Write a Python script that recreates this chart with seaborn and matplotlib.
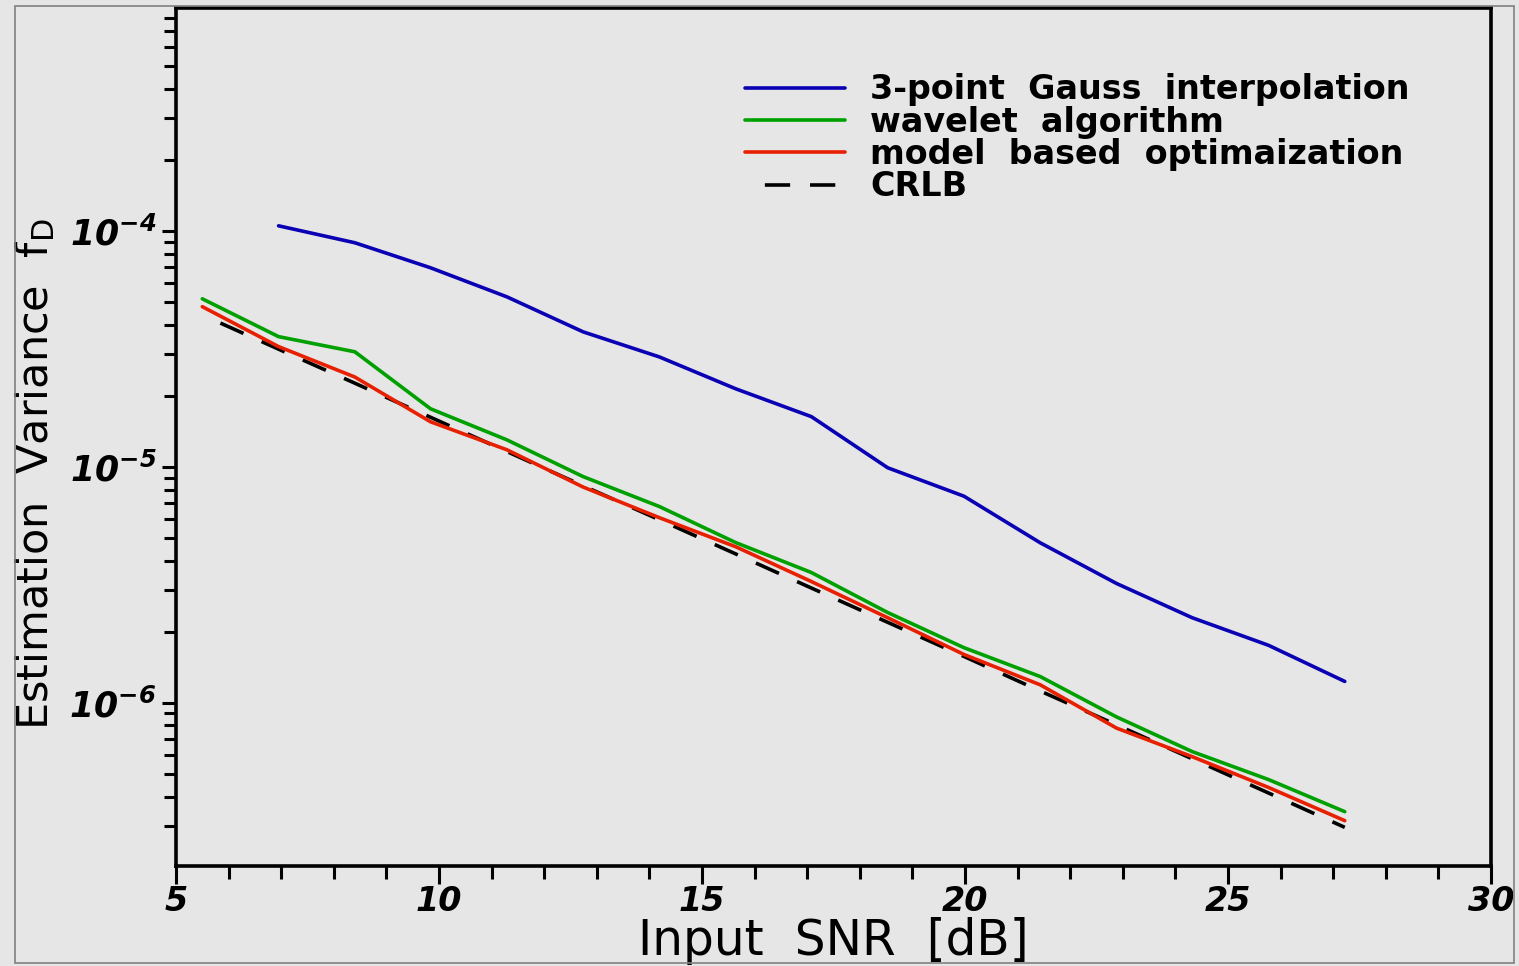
import numpy as np
import pandas as pd
import matplotlib
matplotlib.use("Agg")
import matplotlib.pyplot as plt
import seaborn as sns
from matplotlib.patches import Rectangle
from matplotlib.ticker import NullFormatter, LogLocator, MultipleLocator

# ---------------- data ----------------
snr = [5.5, 6.95, 8.4, 9.84, 11.29, 12.74, 14.19, 15.64, 17.08, 18.53,
       19.98, 21.43, 22.88, 24.32, 25.77, 27.22]
snr_gauss = snr[1:]
gauss = [1.05e-4, 8.9e-5, 6.97e-5, 5.25e-5, 3.73e-5, 2.92e-5, 2.14e-5, 1.63e-5,
         9.9e-6, 7.5e-6, 4.76e-6, 3.2e-6, 2.29e-6, 1.75e-6, 1.23e-6]
wavelet = [5.15e-5, 3.56e-5, 3.07e-5, 1.76e-5, 1.3e-5, 9.08e-6, 6.78e-6, 4.77e-6,
           3.56e-6, 2.41e-6, 1.71e-6, 1.29e-6, 8.7e-7, 6.2e-7, 4.72e-7, 3.45e-7]
model = [4.77e-5, 3.23e-5, 2.4e-5, 1.55e-5, 1.18e-5, 8.2e-6, 6.08e-6, 4.58e-6,
         3.26e-6, 2.29e-6, 1.6e-6, 1.19e-6, 7.8e-7, 5.9e-7, 4.37e-7, 3.16e-7]
crlb = [4.4e-5, 3.15e-5, 2.26e-5, 1.62e-5, 1.16e-5, 8.3e-6, 5.96e-6, 4.27e-6,
        3.06e-6, 2.19e-6, 1.57e-6, 1.12e-6, 8.05e-7, 5.78e-7, 4.14e-7, 2.96e-7]

series_names = ["3-point  Gauss  interpolation", "wavelet  algorithm",
                "model  based  optimaization", "CRLB"]
xticks = [5, 10, 15, 20, 25, 30]
xtick_labels = ["5", "10", "15", "20", "25", "30"]
yticks = [1e-6, 1e-5, 1e-4]
ytick_labels = [r"$10^{-6}$", r"$10^{-5}$", r"$10^{-4}$"]
xlabel = "Input  SNR  [dB]"
ylabel = r"Estimation  Variance  f$_\mathsf{D}$"

# ---------------- style ----------------
sns.set_theme(style="white")
bg = "#E6E6E6"
plt.rcParams["font.family"] = ["DejaVu Sans"]
plt.rcParams["mathtext.fontset"] = "custom"
plt.rcParams["mathtext.rm"] = "DejaVu Sans:italic:bold"
plt.rcParams["mathtext.it"] = "DejaVu Sans:italic:bold"
plt.rcParams["mathtext.bf"] = "DejaVu Sans:bold"
plt.rcParams["mathtext.sf"] = "DejaVu Sans"
plt.rcParams["mathtext.default"] = "rm"

fig = plt.figure(figsize=(15.19, 9.66), dpi=100, facecolor=bg)
ax = fig.add_axes([176 / 1519, 1 - 866 / 966, (1491 - 176) / 1519, (866 - 8) / 966])
ax.set_facecolor(bg)

df_g = pd.DataFrame({"snr": snr_gauss, "v": gauss})
df_w = pd.DataFrame({"snr": snr, "v": wavelet})
df_m = pd.DataFrame({"snr": snr, "v": model})
df_c = pd.DataFrame({"snr": snr, "v": crlb})

lw = 2.6
sns.lineplot(data=df_g, x="snr", y="v", ax=ax, color="#0A00B4", lw=lw, label=series_names[0])
sns.lineplot(data=df_w, x="snr", y="v", ax=ax, color="#00A000", lw=lw, label=series_names[1])
sns.lineplot(data=df_m, x="snr", y="v", ax=ax, color="#E62000", lw=lw, label=series_names[2])
sns.lineplot(data=df_c, x="snr", y="v", ax=ax, color="black", lw=lw, label=series_names[3])
ax.get_lines()[3].set_linestyle((7, (7, 5.5)))
ax.get_lines()[3].set_zorder(1.5)

ax.set_yscale("log")
ax.set_xlim(5, 30)
ax.set_ylim(2.03e-7, 8.8e-4)

# ticks
ax.set_xticks(xticks)
ax.set_xticklabels(xtick_labels)
ax.xaxis.set_minor_locator(MultipleLocator(1))
ax.set_yticks(yticks)
ax.set_yticklabels(ytick_labels)
ax.yaxis.set_minor_locator(LogLocator(base=10, subs=np.arange(2, 10)))
ax.yaxis.set_minor_formatter(NullFormatter())

for lab in ax.get_xticklabels():
    lab.set_fontstyle("italic")
    lab.set_fontweight("bold")
    lab.set_fontsize(24)
for lab in ax.get_yticklabels():
    lab.set_fontsize(25)

ax.tick_params(axis="both", which="major", direction="out", width=2.2, color="black",
               labelcolor="black")
ax.tick_params(axis="x", which="major", length=13, pad=1, bottom=True, top=False)
ax.tick_params(axis="x", which="minor", length=9, width=2.2, direction="out",
               bottom=True, top=False, color="black")
ax.tick_params(axis="y", which="major", length=10, pad=4, left=True, right=False)
ax.tick_params(axis="y", which="minor", length=9, width=2.2, direction="out",
               left=True, right=False, color="black")

for s in ax.spines.values():
    s.set_visible(True)
    s.set_color("black")
    s.set_linewidth(2.6)

ax.grid(False)

# labels
ax.set_xlabel(xlabel, fontsize=35, color="black")
ax.set_ylabel(ylabel, fontsize=31, color="black")
ax.xaxis.set_label_coords(0.5, -0.087)
ax.xaxis.label.set_va("center")
ax.yaxis.set_label_coords(-0.107, 0.457)
ax.yaxis.label.set_va("center")

# legend
leg = ax.legend(loc="upper left", bbox_to_anchor=(0.433, 0.924), frameon=False,
                prop={"weight": "bold", "size": 24}, handlelength=3.0,
                handletextpad=0.75, labelspacing=-0.02, borderpad=0, borderaxespad=0)
for t in leg.get_texts():
    t.set_color("black")

# outer frame
fig.patches.append(Rectangle((15 / 1519, 1 - 963 / 966), (1514 - 15) / 1519, (963 - 6) / 966,
                             transform=fig.transFigure, fill=False, ec="#808080", lw=1.2))

fig.savefig("out.png", dpi=100, facecolor=bg)
